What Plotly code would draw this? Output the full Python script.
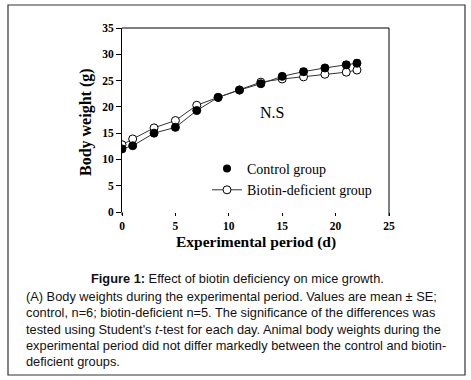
import plotly.graph_objects as go

days = [0, 1, 3, 5, 7, 9, 11, 13, 15, 17, 19, 21, 22]
control = [12.0, 12.6, 15.0, 16.1, 19.3, 21.8, 23.2, 24.4, 25.8, 26.7, 27.4, 28.0, 28.3]
control_se = [0.3, 0.3, 0.3, 0.4, 0.4, 0.3, 0.3, 0.4, 0.4, 0.6, 0.5, 0.6, 0.6]
biotin = [12.8, 13.9, 16.0, 17.4, 20.3, 21.8, 23.2, 24.7, 25.3, 25.7, 26.2, 26.6, 27.0]
biotin_se = [0.3, 0.3, 0.3, 0.3, 0.3, 0.3, 0.3, 0.4, 0.4, 0.4, 0.4, 0.6, 0.5]
x_ticks = [0, 5, 10, 15, 20, 25]
y_ticks = [0, 5, 10, 15, 20, 25, 30, 35]

W, H = 471, 380
L, R, T, B = 122, 82, 28, 168
PW, PH = W - L - R, H - T - B


def px(xp):
    return (xp - L) / PW


def py(yp):
    return (H - B - yp) / PH


SERIF = "Liberation Serif, Times New Roman, serif"
SANS = "Liberation Sans, Arial, sans-serif"

fig = go.Figure()
fig.add_trace(go.Scatter(
    x=days, y=biotin, mode="lines+markers", name="Biotin-deficient group",
    line=dict(color="#333", width=1),
    marker=dict(symbol="circle", size=8, color="white", line=dict(color="black", width=1)),
    error_y=dict(type="data", array=biotin_se, color="black", thickness=1, width=3),
    showlegend=False,
))
fig.add_trace(go.Scatter(
    x=days, y=control, mode="lines+markers", name="Control group",
    line=dict(color="#333", width=1),
    marker=dict(symbol="circle", size=8, color="black", line=dict(color="black", width=1)),
    error_y=dict(type="data", array=control_se, color="black", thickness=1, width=3),
    showlegend=False,
))
# legend entries
fig.add_trace(go.Scatter(
    x=[None], y=[None], mode="markers", name="Control group",
    marker=dict(symbol="circle", size=8, color="black"),
))
fig.add_trace(go.Scatter(
    x=[None], y=[None], mode="lines+markers", name="Biotin-deficient group",
    line=dict(color="#333", width=1),
    marker=dict(symbol="circle", size=8, color="white", line=dict(color="black", width=1)),
))

fig.update_xaxes(
    range=[0, 25], tickvals=x_ticks, ticktext=[f"<b>{t}</b>" for t in x_ticks],
    ticks="outside", ticklen=3, tickcolor="black", automargin=False,
    showline=False, showgrid=False, zeroline=False,
    tickfont=dict(family=SERIF, size=11.5, color="black"),
)
fig.update_yaxes(
    range=[0, 35], tickvals=y_ticks, ticktext=[f"<b>{t}</b>" for t in y_ticks],
    ticks="outside", ticklen=5, tickcolor="black", automargin=False,
    showline=True, linecolor="black", linewidth=1, showgrid=False, zeroline=False,
    tickfont=dict(family=SERIF, size=11.5, color="black"),
)

shapes = [
    dict(type="line", xref="paper", yref="paper", x0=0, x1=1, y0=1, y1=1, line=dict(color="black", width=1)),
    dict(type="line", xref="paper", yref="paper", x0=1, x1=1, y0=py(216), y1=1, line=dict(color="black", width=1)),
    dict(type="line", xref="paper", yref="paper", x0=0, x1=0, y0=py(215), y1=0, line=dict(color="black", width=1)),
    # outer frame
    dict(type="rect", xref="paper", yref="paper", x0=px(8), x1=px(465), y0=py(375), y1=py(5),
         line=dict(color="#333", width=1.2)),
]


def ann(text, x, y, size, family, **kw):
    d = dict(text=text, x=px(x), y=py(y), xref="paper", yref="paper", showarrow=False,
             xanchor="center", yanchor="middle", font=dict(family=family, size=size, color=kw.pop("color", "black")))
    d.update(kw)
    return d


annotations = [
    ann("<b>Experimental period (d)</b>", 256, 242, 15.5, SERIF),
    ann("<b>Body weight (g)</b>", 86, 122, 16, SERIF, textangle=-90),
    ann("N.S", 272, 112, 16, SERIF),
    ann("<b>Figure 1:</b> Effect of biotin deficiency on mice growth.", 237, 278, 12.8, SANS, color="#111"),
]
caption_lines = [
    "(A) Body weights during the experimental period. Values are mean ± SE;",
    "control, n=6; biotin-deficient n=5. The significance of the differences was",
    "tested using Student's <i>t</i>-test for each day. Animal body weights during the",
    "experimental period did not differ markedly between the control and biotin-",
    "deficient groups.",
]
line_y = [296, 312.5, 329, 345, 361]
for txt, yy in zip(caption_lines, line_y):
    annotations.append(ann(txt, 24, yy, 12.8, SANS, color="#111", xanchor="left"))

fig.update_layout(
    template="none",
    width=W, height=H, margin=dict(l=L, r=R, t=T, b=B, autoexpand=False),
    paper_bgcolor="white", plot_bgcolor="white",
    shapes=shapes, annotations=annotations,
    legend=dict(x=px(207), y=py(153), xanchor="left", yanchor="top", bgcolor="rgba(0,0,0,0)",
                font=dict(family=SERIF, size=14, color="black"), tracegroupgap=0),
)
fig.write_html("out.html", config={"displayModeBar": False},
               post_script="document.body.style.margin='0';")
